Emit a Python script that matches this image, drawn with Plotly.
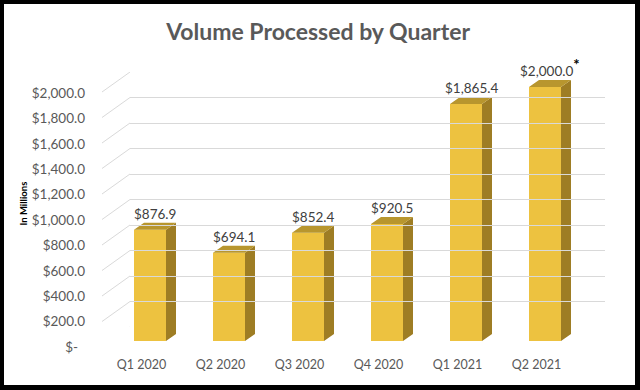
import plotly.graph_objects as go

# ---- data ----
categories = ["Q1 2020", "Q2 2020", "Q3 2020", "Q4 2020", "Q1 2021", "Q2 2021"]
volumes = [876.9, 694.1, 852.4, 920.5, 1865.4, 2000.0]
value_labels = ["$876.9", "$694.1", "$852.4", "$920.5", "$1,865.4",
                "$2,000.0<sup><b><span style='color:black;font-size:15px'>*</span></b></sup>"]
tick_values = [0, 200, 400, 600, 800, 1000, 1200, 1400, 1600, 1800, 2000]
tick_labels = ["$-\u00a0\u00a0", "$200.0", "$400.0", "$600.0", "$800.0", "$1,000.0",
               "$1,200.0", "$1,400.0", "$1,600.0", "$1,800.0", "$2,000.0"]

# ---- layout helpers (pixel -> paper fraction) ----
W, H = 640, 390
def fx(px):
    return px / W
def fy(py):
    return 1 - py / H

FONT = "Lato, 'Open Sans', sans-serif"
FRONT = "#EDC240"
SIDE = "#9E7D24"
TOP = "#B8962E"
GRID = "#D9D9D9"
TICK = "#595959"

PX_PER_UNIT = 254 / 2000.0      # vertical scale
CAT_PX = 79.0                   # pixels per category
BAR_W = 0.405                   # bar width in category units
DX = 10 / CAT_PX                # 3D depth (x, category units)
DY = 7 / PX_PER_UNIT            # 3D depth (y, value units)
Y2_MAX = 2200

idx = list(range(len(categories)))

fig = go.Figure()

# white card with black frame (first, so it sits under everything)
fig.add_shape(type="rect", xref="paper", yref="paper", x0=fx(4), x1=fx(635), y0=fy(385), y1=fy(4),
              fillcolor="white", line=dict(width=0), layer="below")

# front faces
fig.add_trace(go.Bar(x=idx, y=volumes, width=BAR_W, marker=dict(color=FRONT, line=dict(width=0)),
                     xaxis="x2", yaxis="y2", showlegend=False, hoverinfo="skip"))

# side & top faces
side_x, side_y, top_x, top_y = [], [], [], []
for c, v in zip(idx, volumes):
    h = BAR_W / 2
    side_x += [c + h, c + h, c + h + DX, c + h + DX, c + h, None]
    side_y += [0, v, v + DY, DY, 0, None]
    top_x += [c - h, c + h, c + h + DX, c - h + DX, c - h, None]
    top_y += [v, v, v + DY, v + DY, v, None]
fig.add_trace(go.Scatter(x=side_x, y=side_y, fill="toself", fillcolor=SIDE, mode="lines",
                         line=dict(width=0, color=SIDE), xaxis="x2", yaxis="y2",
                         showlegend=False, hoverinfo="skip"))
fig.add_trace(go.Scatter(x=top_x, y=top_y, fill="toself", fillcolor=TOP, mode="lines",
                         line=dict(width=0, color=TOP), xaxis="x2", yaxis="y2",
                         showlegend=False, hoverinfo="skip"))

# empty traces so that label / grid subplots exist
fig.add_trace(go.Scatter(x=[None], y=[None], xaxis="x", yaxis="y", showlegend=False))
fig.add_trace(go.Scatter(x=[None], y=[None], xaxis="x3", yaxis="y3", showlegend=False))

# data labels
for c, v, t in zip(idx, volumes, value_labels):
    fig.add_annotation(x=c + DX / 2, y=v + DY, xref="x2", yref="y2", text=t,
                       showarrow=False, yanchor="bottom", yshift=-1,
                       font=dict(family=FONT, size=13.5, color="#404040"))

# slanted floor-to-wall grid lines
for v in tick_values:
    fig.add_shape(type="line", xref="paper", x0=fx(102), x1=fx(130),
                  yref="y3", ysizemode="pixel", yanchor=v, y0=-20, y1=0,
                  line=dict(color=GRID, width=1), layer="below")

fig.add_annotation(text="<b>In Millions</b>", xref="paper", yref="paper", x=fx(15), y=fy(204),
                   textangle=-90, showarrow=False, font=dict(family=FONT, size=9.5, color="black"))

fig.update_layout(
    width=W, height=H,
    margin=dict(l=0, r=0, t=0, b=0, pad=0, autoexpand=False),
    paper_bgcolor="black",
    plot_bgcolor="rgba(0,0,0,0)",
    title=dict(text="<b>Volume Processed by Quarter</b>", x=0.497, xanchor="center",
               y=fy(32), yanchor="middle", yref="container",
               font=dict(family=FONT, size=23, color=TICK)),
    # front label axes
    xaxis=dict(domain=[fx(102), fx(576)], range=[-0.5, 5.5], anchor="y",
               tickvals=idx, ticktext=categories, showgrid=False, zeroline=False,
               showline=False, ticks="", ticklabelstandoff=8, automargin=False,
               tickfont=dict(family=FONT, size=12.5, color=TICK)),
    yaxis=dict(domain=[fy(347), fy(93)], range=[0, 2000], anchor="free", position=fx(85),
               tickvals=tick_values, ticktext=tick_labels, showgrid=False, zeroline=False,
               showline=False, ticks="", automargin=False,
               tickfont=dict(family=FONT, size=13.5, color=TICK)),
    # bar axes
    xaxis2=dict(domain=[fx(110.5), fx(584.5)], range=[-0.5, 5.5], anchor="y2", visible=False),
    yaxis2=dict(domain=[fy(341), fy(341 - Y2_MAX * PX_PER_UNIT)], range=[0, Y2_MAX],
                anchor="x2", visible=False),
    # back wall grid axes
    xaxis3=dict(domain=[fx(130), fx(605)], range=[0, 1], anchor="y3", visible=False),
    yaxis3=dict(domain=[fy(327), fy(72)], range=[0, 2000], anchor="x3", tickvals=tick_values,
                showticklabels=False, showgrid=True, gridcolor=GRID, gridwidth=1,
                zeroline=False, showline=False, ticks=""),
)

fig.write_html(
    "out.html",
    config={"displayModeBar": False, "responsive": False},
    post_script=("document.body.style.margin='0';"
                 "document.body.style.overflow='hidden';"
                 "document.documentElement.style.overflow='hidden';"),
)
